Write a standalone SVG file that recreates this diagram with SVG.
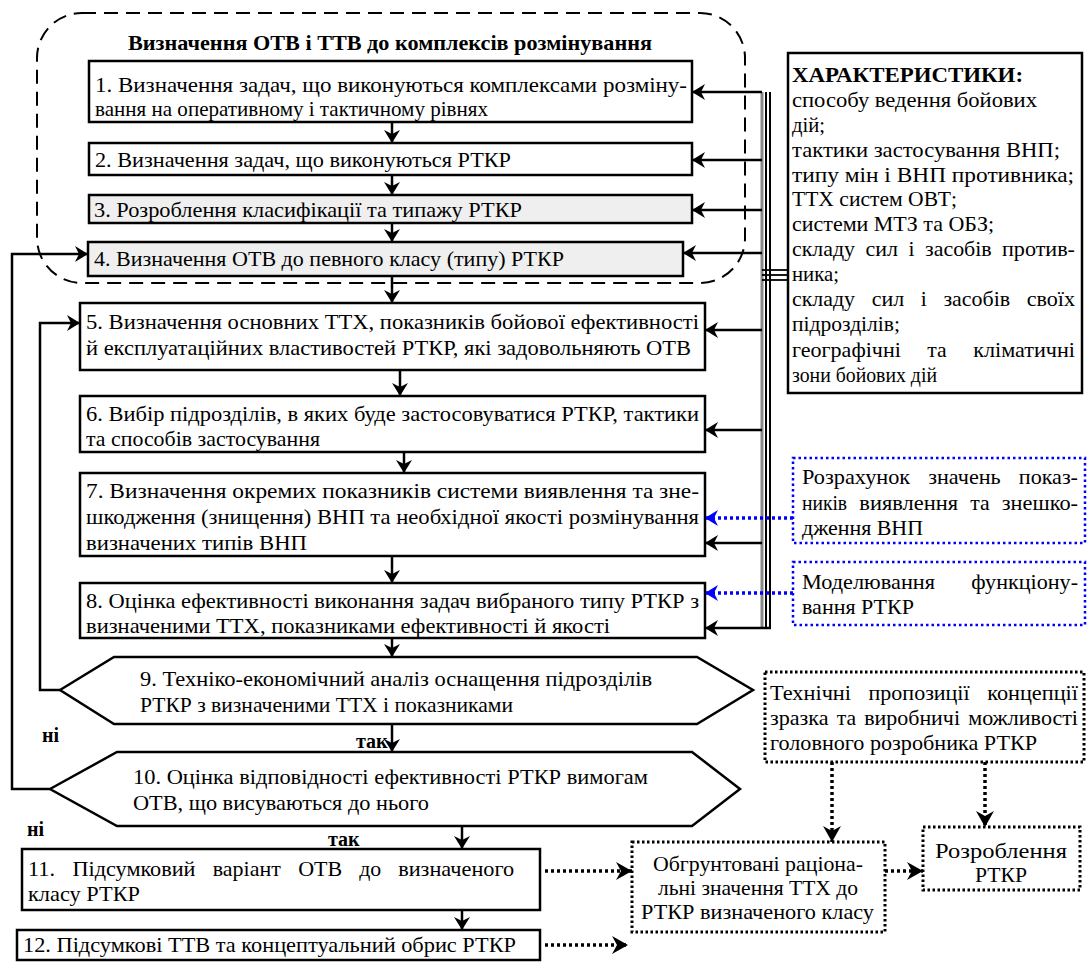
<svg xmlns="http://www.w3.org/2000/svg" width="1087" height="964" viewBox="0 0 1087 964">
<style>
.box{fill:#fff;stroke:#000;stroke-width:2.5}
.sh{fill:#efefef;stroke:#000;stroke-width:2.5}
.ln{fill:none;stroke:#000;stroke-width:2.5}
.bl{fill:none;stroke:#0000ff;stroke-width:3.5;stroke-dasharray:3 3}
.bbox{fill:#fff;stroke:#0000ff;stroke-width:2.5;stroke-dasharray:2.5 3}
.dbox{fill:#fff;stroke:#000;stroke-width:3;stroke-dasharray:2.5 2.5}
.dl{fill:none;stroke:#000;stroke-width:3.5;stroke-dasharray:3 3}
</style>
<defs>
<marker id="ah" viewBox="0 0 13 16" refX="13" refY="8" markerWidth="13" markerHeight="16" markerUnits="userSpaceOnUse" orient="auto"><path d="M0,0 L13,8 L0,16 L4,8 Z" fill="#000"/></marker>
<marker id="ahb" viewBox="0 0 13 16" refX="13" refY="8" markerWidth="13" markerHeight="16" markerUnits="userSpaceOnUse" orient="auto"><path d="M0,0 L13,8 L0,16 L4,8 Z" fill="#0000ff"/></marker>
<marker id="ahd" viewBox="0 0 16 18" refX="16" refY="9" markerWidth="16" markerHeight="18" markerUnits="userSpaceOnUse" orient="auto"><path d="M0,0 L16,9 L0,18 L5,9 Z" fill="#000"/></marker>
</defs>

<g font-family="Liberation Serif" font-size="22" fill="#000">
<g id="group-otv">
<rect x="37" y="13" width="708" height="270" rx="45" ry="45" fill="none" stroke="#000" stroke-width="2" stroke-dasharray="14 8"/>
<text font-weight="bold" x="128" y="50" textLength="524" lengthAdjust="spacingAndGlyphs">Визначення ОТВ і ТТВ до комплексів розмінування</text>
</g>

<g id="n1"><rect class="box" x="89" y="61" width="603" height="61"/>
<text x="95" y="92" textLength="592" lengthAdjust="spacingAndGlyphs">1. Визначення задач, що виконуються комплексами розміну-</text>
<text x="95" y="116" textLength="393" lengthAdjust="spacingAndGlyphs">вання  на оперативному і тактичному рівнях</text></g>

<g id="n2"><rect class="box" x="89" y="143" width="603" height="32"/>
<text x="95" y="167" textLength="416" lengthAdjust="spacingAndGlyphs">2. Визначення задач, що виконуються РТКР</text></g>

<g id="n3"><rect class="sh" x="89" y="195" width="603" height="28"/>
<text x="94" y="217" textLength="428" lengthAdjust="spacingAndGlyphs">3. Розроблення класифікації  та типажу РТКР</text></g>

<g id="n4"><rect class="sh" x="88" y="242" width="595" height="34"/>
<text x="94" y="266" textLength="470" lengthAdjust="spacingAndGlyphs">4. Визначення ОТВ до певного класу (типу) РТКР</text></g>

<g id="n5"><rect class="box" x="80" y="303" width="625" height="67"/>
<text x="86" y="329" textLength="613" lengthAdjust="spacingAndGlyphs">5. Визначення основних ТТХ, показників бойової ефективності</text>
<text x="86" y="355" textLength="605" lengthAdjust="spacingAndGlyphs">й експлуатаційних властивостей РТКР, які задовольняють  ОТВ</text></g>

<g id="n6"><rect class="box" x="80" y="396" width="625" height="56"/>
<text x="86" y="421" textLength="613" lengthAdjust="spacingAndGlyphs">6. Вибір підрозділів, в яких буде застосовуватися РТКР, тактики</text>
<text x="86" y="446" textLength="234" lengthAdjust="spacingAndGlyphs">та способів застосування</text></g>

<g id="n7"><rect class="box" x="80" y="473" width="625" height="83"/>
<text x="86" y="498" textLength="613" lengthAdjust="spacingAndGlyphs">7. Визначення окремих показників системи виявлення та зне-</text>
<text x="86" y="524" textLength="613" lengthAdjust="spacingAndGlyphs">шкодження (знищення) ВНП та необхідної якості розмінування</text>
<text x="86" y="550" textLength="221" lengthAdjust="spacingAndGlyphs">визначених типів ВНП</text></g>

<g id="n8"><rect class="box" x="80" y="583" width="625" height="55"/>
<text x="86" y="608" textLength="613" lengthAdjust="spacingAndGlyphs">8. Оцінка ефективності виконання задач вибраного типу РТКР з</text>
<text x="86" y="633" textLength="524" lengthAdjust="spacingAndGlyphs">визначеними ТТХ, показниками  ефективності й якості</text></g>

<g id="n9"><polygon class="box" points="60,690 114,657 697,657 753,690 697,724 114,724"/>
<text x="140" y="686" textLength="512" lengthAdjust="spacingAndGlyphs">9. Техніко-економічний аналіз оснащення підрозділів</text>
<text x="140" y="712" textLength="373" lengthAdjust="spacingAndGlyphs">РТКР з визначеними ТТХ і показниками</text></g>

<g id="n10"><polygon class="box" points="50,789 117,752 692,752 740,789 692,826 117,826"/>
<text x="133" y="784" textLength="515" lengthAdjust="spacingAndGlyphs">10. Оцінка відповідності ефективності РТКР вимогам</text>
<text x="133" y="810" textLength="296" lengthAdjust="spacingAndGlyphs">ОТВ, що висуваються до нього</text></g>

<g id="n11"><rect class="box" x="22" y="849" width="518" height="61"/>
<text y="876"><tspan x="28" textLength="27" lengthAdjust="spacingAndGlyphs">11.</tspan><tspan x="72.5" textLength="123" lengthAdjust="spacingAndGlyphs">Підсумковий</tspan><tspan x="212.8" textLength="68" lengthAdjust="spacingAndGlyphs">варіант</tspan><tspan x="298.2" textLength="44" lengthAdjust="spacingAndGlyphs">ОТВ</tspan><tspan x="359.2" textLength="22" lengthAdjust="spacingAndGlyphs">до</tspan><tspan x="398.2" textLength="116" lengthAdjust="spacingAndGlyphs">визначеного</tspan></text>
<text x="28" y="901" textLength="112" lengthAdjust="spacingAndGlyphs">класу РТКР</text></g>

<g id="n12"><rect class="box" x="17" y="930" width="523" height="30"/>
<text x="23" y="952" textLength="493" lengthAdjust="spacingAndGlyphs">12. Підсумкові ТТВ та концептуальний обрис РТКР</text></g>

<g id="char"><rect class="box" x="788" y="53" width="294" height="340"/>
<text font-weight="bold" x="792" y="82" textLength="231" lengthAdjust="spacingAndGlyphs">ХАРАКТЕРИСТИКИ:</text>
<text x="792" y="107" textLength="245" lengthAdjust="spacingAndGlyphs">способу ведення бойових</text>
<text x="792" y="132" textLength="33" lengthAdjust="spacingAndGlyphs">дій;</text>
<text x="792" y="157" textLength="268" lengthAdjust="spacingAndGlyphs">тактики застосування ВНП;</text>
<text x="792" y="182" textLength="282" lengthAdjust="spacingAndGlyphs">типу мін і ВНП противника;</text>
<text x="792" y="206" textLength="165" lengthAdjust="spacingAndGlyphs">ТТХ систем ОВТ;</text>
<text x="792" y="231" textLength="202" lengthAdjust="spacingAndGlyphs">системи МТЗ та ОБЗ;</text>
<text y="256"><tspan x="792" textLength="63" lengthAdjust="spacingAndGlyphs">складу</tspan><tspan x="865.6" textLength="32.5" lengthAdjust="spacingAndGlyphs">сил</tspan><tspan x="908.5" textLength="6" lengthAdjust="spacingAndGlyphs">і</tspan><tspan x="925" textLength="66.7" lengthAdjust="spacingAndGlyphs">засобів</tspan><tspan x="1002" textLength="73" lengthAdjust="spacingAndGlyphs">против-</tspan></text>
<text x="792" y="281" textLength="47" lengthAdjust="spacingAndGlyphs">ника;</text>
<text y="306"><tspan x="792" textLength="63" lengthAdjust="spacingAndGlyphs">складу</tspan><tspan x="871.7" textLength="32.5" lengthAdjust="spacingAndGlyphs">сил</tspan><tspan x="920.8" textLength="6" lengthAdjust="spacingAndGlyphs">і</tspan><tspan x="943.4" textLength="66.7" lengthAdjust="spacingAndGlyphs">засобів</tspan><tspan x="1026.7" textLength="48.3" lengthAdjust="spacingAndGlyphs">своїх</tspan></text>
<text x="792" y="331" textLength="108" lengthAdjust="spacingAndGlyphs">підрозділів;</text>
<text y="357"><tspan x="792" textLength="108.8" lengthAdjust="spacingAndGlyphs">географічні</tspan><tspan x="927.3" textLength="19.4" lengthAdjust="spacingAndGlyphs">та</tspan><tspan x="973.2" textLength="101.8" lengthAdjust="spacingAndGlyphs">кліматичні</tspan></text>
<text x="792" y="382" textLength="145" lengthAdjust="spacingAndGlyphs">зони бойових дій</text></g>

<g id="calc"><rect class="bbox" x="793" y="458" width="292" height="85"/>
<text y="484"><tspan x="802" textLength="108.2" lengthAdjust="spacingAndGlyphs">Розрахунок</tspan><tspan x="928.2" textLength="72.5" lengthAdjust="spacingAndGlyphs">значень</tspan><tspan x="1018.8" textLength="59.2" lengthAdjust="spacingAndGlyphs">показ-</tspan></text>
<text y="510"><tspan x="802" textLength="45.1" lengthAdjust="spacingAndGlyphs">ників</tspan><tspan x="859.3" textLength="98.8" lengthAdjust="spacingAndGlyphs">виявлення</tspan><tspan x="970.3" textLength="19.4" lengthAdjust="spacingAndGlyphs">та</tspan><tspan x="1001.8" textLength="76.2" lengthAdjust="spacingAndGlyphs">знешко-</tspan></text>
<text x="802" y="535" textLength="121" lengthAdjust="spacingAndGlyphs">дження ВНП</text></g>

<g id="model"><rect class="bbox" x="793" y="562" width="292" height="63"/>
<text y="589"><tspan x="802" textLength="133" lengthAdjust="spacingAndGlyphs">Моделювання</tspan><tspan x="971.3" textLength="106.7" lengthAdjust="spacingAndGlyphs">функціону-</tspan></text>
<text x="802" y="614" textLength="112" lengthAdjust="spacingAndGlyphs">вання РТКР</text></g>

<g id="tech"><rect class="dbox" x="765" y="672" width="319" height="90"/>
<text y="700"><tspan x="770" textLength="81" lengthAdjust="spacingAndGlyphs">Технічні</tspan><tspan x="868.6" textLength="101" lengthAdjust="spacingAndGlyphs">пропозиції</tspan><tspan x="987.2" textLength="90.8" lengthAdjust="spacingAndGlyphs">концепції</tspan></text>
<text y="725"><tspan x="770" textLength="58.6" lengthAdjust="spacingAndGlyphs">зразка</tspan><tspan x="836.7" textLength="19.4" lengthAdjust="spacingAndGlyphs">та</tspan><tspan x="864.2" textLength="95.8" lengthAdjust="spacingAndGlyphs">виробничі</tspan><tspan x="968.2" textLength="109.8" lengthAdjust="spacingAndGlyphs">можливості</tspan></text>
<text x="770" y="750" textLength="267" lengthAdjust="spacingAndGlyphs">головного розробника РТКР</text></g>

<g id="just"><rect class="dbox" x="632" y="842" width="253" height="90"/>
<text x="653" y="871" textLength="210" lengthAdjust="spacingAndGlyphs">Обгрунтовані раціона-</text>
<text x="658" y="895" textLength="200" lengthAdjust="spacingAndGlyphs">льні значення ТТХ до</text>
<text x="641" y="919" textLength="233" lengthAdjust="spacingAndGlyphs">РТКР визначеного класу</text></g>

<g id="dev"><rect class="dbox" x="923" y="827" width="157" height="63"/>
<text x="935" y="858" textLength="132" lengthAdjust="spacingAndGlyphs">Розроблення</text>
<text x="975" y="882" textLength="52" lengthAdjust="spacingAndGlyphs">РТКР</text></g>

<g id="labels" font-weight="bold" font-size="20">
<text x="42" y="742">ні</text>
<text x="356" y="748">так</text>
<text x="27" y="836">ні</text>
<text x="328" y="846">так</text>
</g>
</g>

<g id="connectors">
<line x1="762" y1="92" x2="762" y2="629" stroke="#888" stroke-width="3"/>
<line x1="766" y1="92" x2="766" y2="629" stroke="#000" stroke-width="2"/>
<line x1="770" y1="92" x2="770" y2="629" stroke="#000" stroke-width="2"/>
<line x1="762" y1="270" x2="788" y2="270" stroke="#000" stroke-width="1.8"/>
<line x1="762" y1="275" x2="788" y2="275" stroke="#000" stroke-width="1.8"/>
<line x1="762" y1="280" x2="788" y2="280" stroke="#000" stroke-width="1.8"/>
<line class="ln" x1="762" y1="92" x2="692" y2="92" marker-end="url(#ah)"/>
<line class="ln" x1="762" y1="160" x2="692" y2="160" marker-end="url(#ah)"/>
<line class="ln" x1="762" y1="210" x2="692" y2="210" marker-end="url(#ah)"/>
<line class="ln" x1="762" y1="253" x2="683" y2="253" marker-end="url(#ah)"/>
<line class="ln" x1="762" y1="330" x2="705" y2="330" marker-end="url(#ah)"/>
<line class="ln" x1="762" y1="430" x2="705" y2="430" marker-end="url(#ah)"/>
<line class="ln" x1="762" y1="543" x2="705" y2="543" marker-end="url(#ah)"/>
<line class="ln" x1="771" y1="628" x2="705" y2="628" marker-end="url(#ah)"/>
<line class="bl" x1="793" y1="518" x2="705" y2="518" marker-end="url(#ahb)"/>
<line class="bl" x1="793" y1="593" x2="705" y2="593" marker-end="url(#ahb)"/>
<line class="ln" x1="392" y1="122" x2="392" y2="143" marker-end="url(#ah)"/>
<line class="ln" x1="392" y1="175" x2="392" y2="195" marker-end="url(#ah)"/>
<line class="ln" x1="392" y1="223" x2="392" y2="242" marker-end="url(#ah)"/>
<line class="ln" x1="392" y1="276" x2="392" y2="303" marker-end="url(#ah)"/>
<line class="ln" x1="400" y1="370" x2="400" y2="396" marker-end="url(#ah)"/>
<line class="ln" x1="404" y1="452" x2="404" y2="473" marker-end="url(#ah)"/>
<line class="ln" x1="392" y1="556" x2="392" y2="583" marker-end="url(#ah)"/>
<line class="ln" x1="392" y1="638" x2="392" y2="657" marker-end="url(#ah)"/>
<line class="ln" x1="392" y1="724" x2="392" y2="752" marker-end="url(#ah)"/>
<line class="ln" x1="462" y1="826" x2="462" y2="849" marker-end="url(#ah)"/>
<line class="ln" x1="462" y1="910" x2="462" y2="930" marker-end="url(#ah)"/>
<polyline class="ln" points="60,690 40,690 40,323 80,323" marker-end="url(#ah)"/>
<polyline class="ln" points="50,789 12,789 12,254 88,254" marker-end="url(#ah)"/>
<line class="dl" x1="545" y1="871" x2="632" y2="871" marker-end="url(#ahd)"/>
<line class="dl" x1="545" y1="945" x2="628" y2="945" marker-end="url(#ahd)"/>
<line class="dl" x1="885" y1="871" x2="923" y2="871" marker-end="url(#ahd)"/>
<line class="dl" x1="832" y1="762" x2="832" y2="842" marker-end="url(#ahd)"/>
<line class="dl" x1="985" y1="762" x2="985" y2="827" marker-end="url(#ahd)"/>
</g>
</svg>
